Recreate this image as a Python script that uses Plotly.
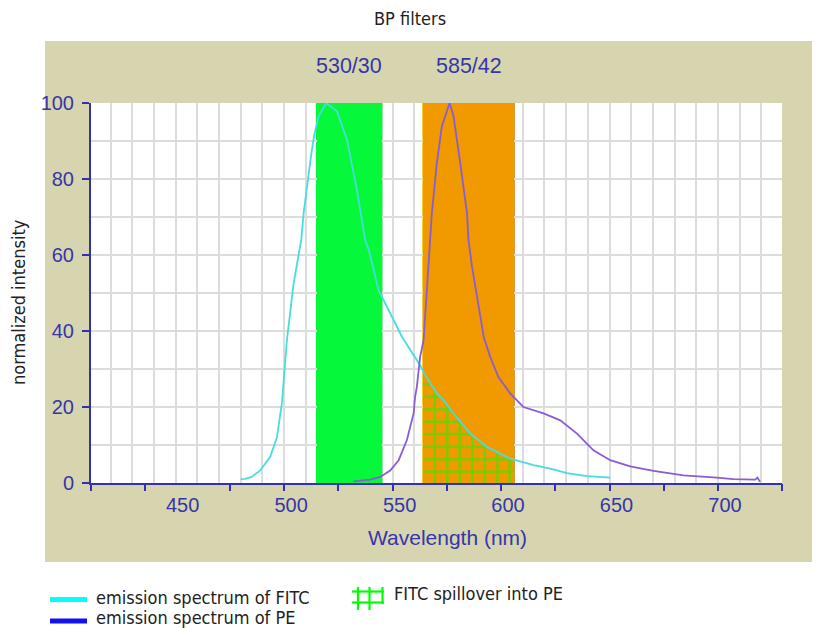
import plotly.graph_objects as go
import numpy as np

# ---------------- data ----------------
fitc_wl = [480, 482, 485, 489, 493.6, 496.7, 499, 499.8, 501.3, 504.4, 507.9, 509, 510.5, 512.4,
           513.9, 515.9, 519.4, 524.4, 529, 533.6, 537.4, 539, 543.5, 548.9, 554.3, 562.7, 564,
           566.6, 570.4, 573.5, 578.1, 585.8, 593.5, 604.2, 606, 615, 622.7, 630.4, 639.6, 650.3]
fitc_int = [1, 1.1, 1.6, 3.3, 6.9, 12, 21, 27, 37.6, 52.5, 64, 71, 78, 86,
            91.6, 96.5, 100, 97.8, 90.3, 77, 63.8, 61.5, 50.8, 44.6, 38.5, 31, 29.5,
            27, 23.6, 21.8, 18.3, 13, 9.5, 6.4, 6.1, 4.7, 3.8, 2.6, 1.8, 1.4]

pe_wl = [532, 539.7, 544.3, 548.9, 552.8, 556.6, 559.7, 560.4, 561.2, 562.7, 564.3, 565.8, 567.4,
         568.1, 570.4, 572.7, 576.3, 578.1, 581.2, 584.3, 585, 586.6, 589.7, 592, 595, 598.8,
         604.2, 610.3, 619.6, 627.3, 635, 642.6, 650.3, 659.5, 670.3, 684.1, 699.5, 707, 717.1,
         718.2, 719.4]
pe_int = [0.4, 0.9, 1.6, 3.3, 6, 11.3, 18.3, 22.7, 25.3, 33.2, 37.6, 50.8, 64,
          71, 84.2, 93.8, 100, 96.5, 84.2, 71, 64, 57, 46.4, 38.5, 33.2, 27.9,
          23.6, 20, 18.3, 16.5, 13, 8.6, 6, 4.4, 3.2, 2, 1.4, 1, 0.9,
          1.4, 0.3]

filter_centers = [530, 585]
filter_widths = [30, 42]
filter_labels = ["530/30", "585/42"]
filter_colors = ["#05f83a", "#f09a00"]
filter_left_edge = ["#05f83a", "#f8c400"]
filter_right_edge = ["#1ec83e", "#c88200"]

x_label_vals = [450, 500, 550, 600, 650, 700]
x_label_text = ["450", "500", "550", "600", "650", "700"]
x_tick_vals = [411, 436, 475, 500, 525, 550, 575, 600, 625, 650, 675, 700, 729.5]
y_tick_vals = [0, 20, 40, 60, 80, 100]

X_RANGE = [411, 729.5]
Y_RANGE = [0, 100]

# ---------------- layout helpers ----------------
# page body has an 8px margin, so the figure sits at (8, 8) in the window
OFF = 8
W, H = 820 - OFF, 628 - OFF
PL, PR, PT, PB = 91, 782, 103, 483        # plot-area edges in window pixels
L, T = PL - OFF, PT - OFF
R, B = W - (PR - OFF), H - (PB - OFF)


def px(x):
    return (x - PL) / (PR - PL)


def py(y):
    return (PB - y) / (PB - PT)


AXIS_BLUE = "#3232b0"
TEXT_BLUE = "#3636a8"
TAN = "#d6d5b0"
NARROW = "Liberation Sans Narrow, DejaVu Sans Condensed, Arial Narrow, sans-serif"
SANS = "Liberation Sans, Arial, sans-serif"

fig = go.Figure()

# filter bands
fig.add_trace(go.Bar(
    x=filter_centers, y=[100] * len(filter_centers), width=filter_widths,
    marker=dict(color=filter_colors, line=dict(width=0)),
    showlegend=False, hoverinfo="skip", xaxis="x", yaxis="y"))

# spillover hatch: FITC under the PE filter band
lo = filter_centers[1] - filter_widths[1] / 2
hi = filter_centers[1] + filter_widths[1] / 2
fw = np.array(fitc_wl)
fi = np.array(fitc_int)
mask = (fw >= lo) & (fw <= hi)
fig.add_trace(go.Scatter(
    x=fw[mask], y=fi[mask], mode="lines", line=dict(width=0),
    fill="tozeroy", fillcolor="rgba(0,0,0,0)",
    fillpattern=dict(shape="+", fgcolor="#00ff00", bgcolor="rgba(0,0,0,0)",
                     size=12.5, solidity=0.36),
    showlegend=False, hoverinfo="skip", xaxis="x2", yaxis="y"))

# spectra
fig.add_trace(go.Scatter(x=fitc_wl, y=fitc_int, mode="lines",
                         line=dict(color="#44dede", width=1.8),
                         showlegend=False, xaxis="x2", yaxis="y"))
fig.add_trace(go.Scatter(x=pe_wl, y=pe_int, mode="lines",
                         line=dict(color="#8a5cd6", width=1.8),
                         showlegend=False, xaxis="x2", yaxis="y"))

shapes = [
    # tan panel
    dict(type="rect", xref="paper", yref="paper", layer="below",
         x0=px(45), x1=px(820), y0=py(562), y1=py(41),
         fillcolor=TAN, line=dict(width=0)),
    # white plot area
    dict(type="rect", xref="paper", yref="paper", layer="below",
         x0=0, x1=1, y0=0, y1=1, fillcolor="white", line=dict(width=0)),
    # legend lines
    dict(type="line", xref="paper", yref="paper", x0=px(50), x1=px(87), y0=py(599.5), y1=py(599.5),
         line=dict(color="#00ffff", width=5)),
    dict(type="line", xref="paper", yref="paper", x0=px(50), x1=px(87), y0=py(621), y1=py(621),
         line=dict(color="#1010f0", width=5)),
]
# band edge shading
for c, w, lc, rc in zip(filter_centers, filter_widths, filter_left_edge, filter_right_edge):
    for xe, col in ((c - w / 2, lc), (c + w / 2, rc)):
        shapes.append(dict(type="line", xref="x", yref="y", layer="below",
                           x0=xe, x1=xe, y0=Y_RANGE[0], y1=Y_RANGE[1],
                           line=dict(color=col, width=1.5)))
# legend hatch glyph
for yy in (591.5, 602.5):
    shapes.append(dict(type="line", xref="paper", yref="paper", x0=px(352), x1=px(384),
                       y0=py(yy), y1=py(yy), line=dict(color="#00ff00", width=2.2)))
for xx, y_end in ((358, 610), (369.5, 610), (382.5, 604)):
    shapes.append(dict(type="line", xref="paper", yref="paper", x0=px(xx), x1=px(xx),
                       y0=py(587), y1=py(y_end), line=dict(color="#00ff00", width=2.2)))


def ann(text, x, y, font, xanchor="center", textangle=0, xref="paper"):
    return dict(text=text, xref=xref, yref="paper", x=x, y=y, xanchor=xanchor,
                yanchor="middle", showarrow=False, textangle=textangle, font=font)


LEG_FONT = dict(family=NARROW, size=18, color="#222222")
annotations = [
    ann("BP filters", px(410), py(18), dict(family=NARROW, size=18, color="#222222")),
    ann("normalized intensity", px(18), py(302), dict(family=NARROW, size=18, color="#222222"),
        textangle=-90),
    ann("Wavelength (nm)", px(448), py(537), dict(family=SANS, size=21, color=TEXT_BLUE)),
    ann("emission spectrum of FITC", px(94), py(597.5), LEG_FONT, xanchor="left"),
    ann("emission spectrum of PE", px(94), py(617), LEG_FONT, xanchor="left"),
    ann("FITC spillover into PE", px(392), py(593), LEG_FONT, xanchor="left"),
]
for c, lab in zip(filter_centers, filter_labels):
    annotations.append(ann(lab, c, py(66), dict(family=SANS, size=21.5, color=TEXT_BLUE), xref="x"))

fig.update_layout(
    width=W, height=H, margin=dict(l=L, r=R, t=T, b=B, pad=0, autoexpand=False),
    paper_bgcolor="white", plot_bgcolor="white",
    barmode="overlay", bargap=0, showlegend=False,
    shapes=shapes, annotations=annotations,
    xaxis=dict(range=X_RANGE, tickmode="array", tickvals=x_label_vals, ticktext=x_label_text,
               ticks="", ticklabelshift=7, ticklabelstandoff=3, automargin=False,
               tickfont=dict(family=SANS, size=20, color=TEXT_BLUE),
               showgrid=True, gridcolor="#dcdcdc", gridwidth=2,
               minor=dict(tickmode="linear", tick0=0, dtick=10, showgrid=True,
                          gridcolor="#dcdcdc", gridwidth=2, ticks=""),
               showline=True, linecolor=AXIS_BLUE, linewidth=2, zeroline=False),
    xaxis2=dict(range=X_RANGE, overlaying="x", anchor="y", side="bottom", matches="x",
                tickmode="array", tickvals=x_tick_vals, ticks="outside", ticklen=7,
                tickwidth=2, tickcolor=AXIS_BLUE, showticklabels=False, showgrid=False,
                showline=False, zeroline=False, automargin=False),
    yaxis=dict(range=Y_RANGE, tickmode="array", tickvals=y_tick_vals, ticks="outside",
               ticklen=7, tickwidth=2, tickcolor=AXIS_BLUE, ticklabelstandoff=4, automargin=False,
               tickfont=dict(family=SANS, size=20, color=TEXT_BLUE),
               showgrid=True, gridcolor="#dcdcdc", gridwidth=2,
               minor=dict(tickmode="linear", tick0=0, dtick=10, showgrid=True,
                          gridcolor="#dcdcdc", gridwidth=2, ticks=""),
               showline=True, linecolor=AXIS_BLUE, linewidth=2, zeroline=False),
)

fig.write_html("out.html")
